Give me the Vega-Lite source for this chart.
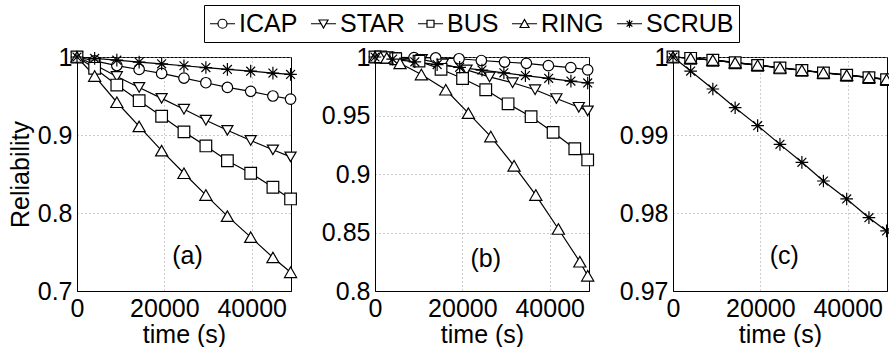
{
  "$schema": "https://vega.github.io/schema/vega-lite/v6.json",
  "padding": {"left": 7, "top": 4, "right": 0, "bottom": 0},
  "bounds": "flush",
  "align": "none",
  "spacing": 84,
  "config": {
    "font": "Liberation Sans",
    "view": {"stroke": "black", "strokeWidth": 1},
    "axis": {
      "labelFont": "Liberation Sans", "labelFontSize": 25, "labelColor": "black",
      "titleFont": "Liberation Sans", "titleFontSize": 25, "titleFontWeight": "normal", "titleColor": "black",
      "domainColor": "black", "ticks": false, "grid": true, "gridColor": "#999999", "gridDash": [1, 3], "gridWidth": 1,
      "labelPadding": 5, "labelFlush": false, "labelOverlap": false
    },
    "text": {"font": "Liberation Sans"}
  },
  "resolve": {"scale": {"shape": "independent", "size": "independent", "x": "independent", "y": "independent"}},
  "datasets": {
    "lab": [
      {"panel": "a", "t": 25300, "r": 0.745, "label": "(a)"},
      {"panel": "b", "t": 25360, "r": 0.8274, "label": "(b)"},
      {"panel": "c", "t": 25470, "r": 0.97449, "label": "(c)"}
    ],
    "d": [
      {"panel":"a","series":"ICAP","t":0,"r":1},{"panel":"a","series":"ICAP","t":4040,"r":0.995},{"panel":"a","series":"ICAP","t":9120,"r":0.989},{"panel":"a","series":"ICAP","t":14230,"r":0.984},{"panel":"a","series":"ICAP","t":19380,"r":0.979},{"panel":"a","series":"ICAP","t":24490,"r":0.973},{"panel":"a","series":"ICAP","t":29510,"r":0.967},{"panel":"a","series":"ICAP","t":34440,"r":0.961},{"panel":"a","series":"ICAP","t":39770,"r":0.956},{"panel":"a","series":"ICAP","t":44860,"r":0.95},{"panel":"a","series":"ICAP","t":48900,"r":0.946},
      {"panel":"a","series":"STAR","t":0,"r":1},{"panel":"a","series":"STAR","t":4040,"r":0.99},{"panel":"a","series":"STAR","t":9120,"r":0.975},{"panel":"a","series":"STAR","t":14230,"r":0.961},{"panel":"a","series":"STAR","t":19380,"r":0.947},{"panel":"a","series":"STAR","t":24490,"r":0.933},{"panel":"a","series":"STAR","t":29510,"r":0.919},{"panel":"a","series":"STAR","t":34440,"r":0.906},{"panel":"a","series":"STAR","t":39770,"r":0.893},{"panel":"a","series":"STAR","t":44860,"r":0.881},{"panel":"a","series":"STAR","t":48900,"r":0.872},
      {"panel":"a","series":"BUS","t":0,"r":1},{"panel":"a","series":"BUS","t":4040,"r":0.9855},{"panel":"a","series":"BUS","t":9120,"r":0.964},{"panel":"a","series":"BUS","t":14230,"r":0.944},{"panel":"a","series":"BUS","t":19380,"r":0.924},{"panel":"a","series":"BUS","t":24490,"r":0.904},{"panel":"a","series":"BUS","t":29510,"r":0.886},{"panel":"a","series":"BUS","t":34440,"r":0.867},{"panel":"a","series":"BUS","t":39770,"r":0.851},{"panel":"a","series":"BUS","t":44860,"r":0.833},{"panel":"a","series":"BUS","t":48900,"r":0.818},
      {"panel":"a","series":"RING","t":0,"r":1},{"panel":"a","series":"RING","t":4040,"r":0.9756},{"panel":"a","series":"RING","t":9120,"r":0.942},{"panel":"a","series":"RING","t":14230,"r":0.911},{"panel":"a","series":"RING","t":19380,"r":0.88},{"panel":"a","series":"RING","t":24490,"r":0.851},{"panel":"a","series":"RING","t":29510,"r":0.823},{"panel":"a","series":"RING","t":34440,"r":0.796},{"panel":"a","series":"RING","t":39770,"r":0.769},{"panel":"a","series":"RING","t":44860,"r":0.743},{"panel":"a","series":"RING","t":48900,"r":0.724},
      {"panel":"a","series":"SCRUB","t":0,"r":1},{"panel":"a","series":"SCRUB","t":4040,"r":0.9982},{"panel":"a","series":"SCRUB","t":9120,"r":0.9959},{"panel":"a","series":"SCRUB","t":14230,"r":0.9935},{"panel":"a","series":"SCRUB","t":19380,"r":0.9912},{"panel":"a","series":"SCRUB","t":24490,"r":0.9888},{"panel":"a","series":"SCRUB","t":29510,"r":0.9865},{"panel":"a","series":"SCRUB","t":34440,"r":0.9841},{"panel":"a","series":"SCRUB","t":39770,"r":0.9818},{"panel":"a","series":"SCRUB","t":44860,"r":0.9794},{"panel":"a","series":"SCRUB","t":48900,"r":0.9777},

      {"panel":"b","series":"ICAP","t":0,"r":1},{"panel":"b","series":"ICAP","t":1300,"r":1},{"panel":"b","series":"ICAP","t":2700,"r":1},{"panel":"b","series":"ICAP","t":4200,"r":0.9998},{"panel":"b","series":"ICAP","t":8935,"r":0.9995},{"panel":"b","series":"ICAP","t":13900,"r":0.9992},{"panel":"b","series":"ICAP","t":19240,"r":0.9985},{"panel":"b","series":"ICAP","t":24350,"r":0.997},{"panel":"b","series":"ICAP","t":29670,"r":0.9957},{"panel":"b","series":"ICAP","t":34660,"r":0.9946},{"panel":"b","series":"ICAP","t":39700,"r":0.9926},{"panel":"b","series":"ICAP","t":44830,"r":0.991},{"panel":"b","series":"ICAP","t":48700,"r":0.989},
      {"panel":"b","series":"STAR","t":0,"r":1},{"panel":"b","series":"STAR","t":1300,"r":1},{"panel":"b","series":"STAR","t":2700,"r":0.9998},{"panel":"b","series":"STAR","t":4500,"r":0.9995},{"panel":"b","series":"STAR","t":10700,"r":0.998},{"panel":"b","series":"STAR","t":15500,"r":0.994},{"panel":"b","series":"STAR","t":20960,"r":0.989},{"panel":"b","series":"STAR","t":26230,"r":0.983},{"panel":"b","series":"STAR","t":31500,"r":0.978},{"panel":"b","series":"STAR","t":36650,"r":0.972},{"panel":"b","series":"STAR","t":41540,"r":0.9645},{"panel":"b","series":"STAR","t":46670,"r":0.957},{"panel":"b","series":"STAR","t":48700,"r":0.954},
      {"panel":"b","series":"BUS","t":0,"r":1},{"panel":"b","series":"BUS","t":1300,"r":1},{"panel":"b","series":"BUS","t":2700,"r":0.9995},{"panel":"b","series":"BUS","t":4740,"r":0.9985},{"panel":"b","series":"BUS","t":10080,"r":0.9965},{"panel":"b","series":"BUS","t":15120,"r":0.9895},{"panel":"b","series":"BUS","t":20050,"r":0.9816},{"panel":"b","series":"BUS","t":25360,"r":0.972},{"panel":"b","series":"BUS","t":30470,"r":0.96},{"panel":"b","series":"BUS","t":35740,"r":0.949},{"panel":"b","series":"BUS","t":40780,"r":0.9356},{"panel":"b","series":"BUS","t":45750,"r":0.9216},{"panel":"b","series":"BUS","t":48700,"r":0.912},
      {"panel":"b","series":"RING","t":0,"r":1},{"panel":"b","series":"RING","t":1300,"r":0.9998},{"panel":"b","series":"RING","t":2700,"r":0.9992},{"panel":"b","series":"RING","t":5730,"r":0.9946},{"panel":"b","series":"RING","t":10610,"r":0.985},{"panel":"b","series":"RING","t":16200,"r":0.972},{"panel":"b","series":"RING","t":21380,"r":0.952},{"panel":"b","series":"RING","t":26510,"r":0.932},{"panel":"b","series":"RING","t":31840,"r":0.907},{"panel":"b","series":"RING","t":36820,"r":0.882},{"panel":"b","series":"RING","t":41990,"r":0.853},{"panel":"b","series":"RING","t":46900,"r":0.825},{"panel":"b","series":"RING","t":48700,"r":0.813},
      {"panel":"b","series":"SCRUB","t":0,"r":1},{"panel":"b","series":"SCRUB","t":4040,"r":0.9982},{"panel":"b","series":"SCRUB","t":9120,"r":0.9959},{"panel":"b","series":"SCRUB","t":14230,"r":0.9935},{"panel":"b","series":"SCRUB","t":19380,"r":0.9912},{"panel":"b","series":"SCRUB","t":24490,"r":0.9888},{"panel":"b","series":"SCRUB","t":29510,"r":0.9865},{"panel":"b","series":"SCRUB","t":34440,"r":0.9841},{"panel":"b","series":"SCRUB","t":39770,"r":0.9818},{"panel":"b","series":"SCRUB","t":44860,"r":0.9794},{"panel":"b","series":"SCRUB","t":48700,"r":0.9778},

      {"panel":"c","series":"ICAP","t":0,"r":1},{"panel":"c","series":"ICAP","t":4040,"r":0.99985},{"panel":"c","series":"ICAP","t":9120,"r":0.9996},{"panel":"c","series":"ICAP","t":14230,"r":0.99928},{"panel":"c","series":"ICAP","t":19380,"r":0.99895},{"panel":"c","series":"ICAP","t":24490,"r":0.99862},{"panel":"c","series":"ICAP","t":29510,"r":0.9983},{"panel":"c","series":"ICAP","t":34440,"r":0.99798},{"panel":"c","series":"ICAP","t":39770,"r":0.99768},{"panel":"c","series":"ICAP","t":44860,"r":0.99738},{"panel":"c","series":"ICAP","t":48900,"r":0.99712},
      {"panel":"c","series":"STAR","t":0,"r":1},{"panel":"c","series":"STAR","t":4040,"r":0.99987},{"panel":"c","series":"STAR","t":9120,"r":0.99962},{"panel":"c","series":"STAR","t":14230,"r":0.9993},{"panel":"c","series":"STAR","t":19380,"r":0.99897},{"panel":"c","series":"STAR","t":24490,"r":0.99864},{"panel":"c","series":"STAR","t":29510,"r":0.99832},{"panel":"c","series":"STAR","t":34440,"r":0.998},{"panel":"c","series":"STAR","t":39770,"r":0.9977},{"panel":"c","series":"STAR","t":44860,"r":0.9974},{"panel":"c","series":"STAR","t":48900,"r":0.99714},
      {"panel":"c","series":"BUS","t":0,"r":1},{"panel":"c","series":"BUS","t":4040,"r":0.99983},{"panel":"c","series":"BUS","t":9120,"r":0.99958},{"panel":"c","series":"BUS","t":14230,"r":0.99926},{"panel":"c","series":"BUS","t":19380,"r":0.99893},{"panel":"c","series":"BUS","t":24490,"r":0.9986},{"panel":"c","series":"BUS","t":29510,"r":0.99828},{"panel":"c","series":"BUS","t":34440,"r":0.99796},{"panel":"c","series":"BUS","t":39770,"r":0.99766},{"panel":"c","series":"BUS","t":44860,"r":0.99736},{"panel":"c","series":"BUS","t":48900,"r":0.9971},
      {"panel":"c","series":"RING","t":0,"r":1},{"panel":"c","series":"RING","t":4040,"r":0.99985},{"panel":"c","series":"RING","t":9120,"r":0.9996},{"panel":"c","series":"RING","t":14230,"r":0.99928},{"panel":"c","series":"RING","t":19380,"r":0.99895},{"panel":"c","series":"RING","t":24490,"r":0.99862},{"panel":"c","series":"RING","t":29510,"r":0.9983},{"panel":"c","series":"RING","t":34440,"r":0.99798},{"panel":"c","series":"RING","t":39770,"r":0.99768},{"panel":"c","series":"RING","t":44860,"r":0.99738},{"panel":"c","series":"RING","t":48900,"r":0.99712},
      {"panel":"c","series":"SCRUB","t":0,"r":1},{"panel":"c","series":"SCRUB","t":4040,"r":0.9982},{"panel":"c","series":"SCRUB","t":9120,"r":0.9959},{"panel":"c","series":"SCRUB","t":14230,"r":0.9935},{"panel":"c","series":"SCRUB","t":19380,"r":0.9912},{"panel":"c","series":"SCRUB","t":24490,"r":0.9888},{"panel":"c","series":"SCRUB","t":29510,"r":0.9865},{"panel":"c","series":"SCRUB","t":34440,"r":0.9841},{"panel":"c","series":"SCRUB","t":39770,"r":0.9818},{"panel":"c","series":"SCRUB","t":44860,"r":0.9794},{"panel":"c","series":"SCRUB","t":48900,"r":0.9777}
    ]
  },
  "hconcat": [
    {
      "width": 214, "height": 234,
      "resolve": {"scale": {"shape": "independent"}},
      "layer": [
        {"data": {"name": "d"}, "transform": [{"filter": "datum.panel == 'a'"}],
         "mark": {"type": "line", "color": "black", "strokeWidth": 1.2},
         "encoding": {
           "x": {"field": "t", "type": "quantitative", "scale": {"domain": [0, 49000], "nice": false}, "axis": {"values": [0, 20000, 40000], "format": "d", "title": "time (s)", "titlePadding": 1}},
           "y": {"field": "r", "type": "quantitative", "scale": {"domain": [0.7, 1], "nice": false, "zero": false}, "axis": {"values": [0.7, 0.8, 0.9, 1], "format": ".2~f", "title": "Reliability", "titlePadding": 4}},
           "detail": {"field": "series"}}},
        {"data": {"name": "d"}, "transform": [{"filter": "datum.panel == 'a'"}],
         "mark": {"type": "point", "filled": true, "fill": "white", "stroke": "black", "strokeWidth": 1.2, "opacity": 1},
         "encoding": {
           "x": {"field": "t", "type": "quantitative"},
           "y": {"field": "r", "type": "quantitative"},
           "shape": {"field": "series", "type": "nominal", "legend": null, "scale": {"domain": ["ICAP", "STAR", "BUS", "RING", "SCRUB"], "range": ["circle", "triangle-down", "square", "triangle-up", "M-1,0H1M0,-1V1M-0.7,-0.7L0.7,0.7M-0.7,0.7L0.7,-0.7"]}},
           "size": {"field": "series", "type": "nominal", "legend": null, "scale": {"domain": ["ICAP", "STAR", "BUS", "RING", "SCRUB"], "range": [110, 160, 72, 160, 100]}}}},
        {"data": {"name": "lab"}, "transform": [{"filter": "datum.panel == 'a'"}],
         "mark": {"type": "text", "fontSize": 25, "color": "black", "align": "center", "baseline": "middle"},
         "encoding": {"x": {"field": "t", "type": "quantitative"}, "y": {"field": "r", "type": "quantitative"}, "text": {"field": "label"}}},
        {"data": {"name": "d"}, "transform": [{"filter": "datum.t < 0"}],
         "mark": {"type": "point", "filled": false, "stroke": "black", "color": "black", "strokeWidth": 1.2, "opacity": 1},
         "encoding": {
           "x": {"field": "t", "type": "quantitative"},
           "y": {"field": "r", "type": "quantitative"},
           "shape": {"field": "series", "type": "nominal",
             "scale": {"domain": ["ICAP", "STAR", "BUS", "RING", "SCRUB"], "range": [
               "M-1,0H-0.36M0.36,0H1M-0.36,0A0.36,0.36 0 1,1 0.36,0A0.36,0.36 0 1,1 -0.36,0Z",
               "M-1,0H-0.19M0.19,0H1M-0.36,-0.3H0.36L0,0.34Z",
               "M-1,0H-0.28M0.28,0H1M-0.28,-0.28H0.28V0.28H-0.28Z",
               "M-1,0H-0.19M0.19,0H1M0,-0.34L0.36,0.3H-0.36Z",
               "M-1,0H1M0,-0.32V0.32M-0.23,-0.23L0.23,0.23M-0.23,0.23L0.23,-0.23"]},
             "legend": {"title": null, "orient": "none", "legendX": 127, "legendY": -52, "direction": "horizontal",
               "strokeColor": "black", "fillColor": "white", "padding": 5, "symbolSize": 625,
               "symbolStrokeColor": "black", "symbolStrokeWidth": 1.2, "symbolOpacity": 1,
               "labelFontSize": 25, "labelFont": "Liberation Sans", "labelColor": "black", "labelOffset": 3, "columnPadding": 10}}}}
      ]
    },
    {
      "width": 214, "height": 234,
      "layer": [
        {"data": {"name": "d"}, "transform": [{"filter": "datum.panel == 'b'"}],
         "mark": {"type": "line", "color": "black", "strokeWidth": 1.2},
         "encoding": {
           "x": {"field": "t", "type": "quantitative", "scale": {"domain": [0, 49000], "nice": false}, "axis": {"values": [0, 20000, 40000], "format": "d", "title": "time (s)", "titlePadding": 1}},
           "y": {"field": "r", "type": "quantitative", "scale": {"domain": [0.8, 1], "nice": false, "zero": false}, "axis": {"values": [0.8, 0.85, 0.9, 0.95, 1], "format": ".2~f", "title": null}},
           "detail": {"field": "series"}}},
        {"data": {"name": "d"}, "transform": [{"filter": "datum.panel == 'b'"}],
         "mark": {"type": "point", "filled": true, "fill": "white", "stroke": "black", "strokeWidth": 1.2, "opacity": 1},
         "encoding": {
           "x": {"field": "t", "type": "quantitative"},
           "y": {"field": "r", "type": "quantitative"},
           "shape": {"field": "series", "type": "nominal", "legend": null, "scale": {"domain": ["ICAP", "STAR", "BUS", "RING", "SCRUB"], "range": ["circle", "triangle-down", "square", "triangle-up", "M-1,0H1M0,-1V1M-0.7,-0.7L0.7,0.7M-0.7,0.7L0.7,-0.7"]}},
           "size": {"field": "series", "type": "nominal", "legend": null, "scale": {"domain": ["ICAP", "STAR", "BUS", "RING", "SCRUB"], "range": [110, 160, 72, 160, 100]}}}},
        {"data": {"name": "lab"}, "transform": [{"filter": "datum.panel == 'b'"}],
         "mark": {"type": "text", "fontSize": 25, "color": "black", "align": "center", "baseline": "middle"},
         "encoding": {"x": {"field": "t", "type": "quantitative"}, "y": {"field": "r", "type": "quantitative"}, "text": {"field": "label"}}}
      ]
    },
    {
      "width": 214, "height": 234,
      "layer": [
        {"data": {"name": "d"}, "transform": [{"filter": "datum.panel == 'c'"}],
         "mark": {"type": "line", "color": "black", "strokeWidth": 1.2},
         "encoding": {
           "x": {"field": "t", "type": "quantitative", "scale": {"domain": [0, 49000], "nice": false}, "axis": {"values": [0, 20000, 40000], "format": "d", "title": "time (s)", "titlePadding": 1}},
           "y": {"field": "r", "type": "quantitative", "scale": {"domain": [0.97, 1], "nice": false, "zero": false}, "axis": {"values": [0.97, 0.98, 0.99, 1], "format": ".2~f", "title": null}},
           "detail": {"field": "series"}}},
        {"data": {"name": "d"}, "transform": [{"filter": "datum.panel == 'c'"}],
         "mark": {"type": "point", "filled": true, "fill": "white", "stroke": "black", "strokeWidth": 1.2, "opacity": 1},
         "encoding": {
           "x": {"field": "t", "type": "quantitative"},
           "y": {"field": "r", "type": "quantitative"},
           "shape": {"field": "series", "type": "nominal", "legend": null, "scale": {"domain": ["ICAP", "STAR", "BUS", "RING", "SCRUB"], "range": ["circle", "triangle-down", "square", "triangle-up", "M-1,0H1M0,-1V1M-0.7,-0.7L0.7,0.7M-0.7,0.7L0.7,-0.7"]}},
           "size": {"field": "series", "type": "nominal", "legend": null, "scale": {"domain": ["ICAP", "STAR", "BUS", "RING", "SCRUB"], "range": [110, 160, 72, 160, 100]}}}},
        {"data": {"name": "lab"}, "transform": [{"filter": "datum.panel == 'c'"}],
         "mark": {"type": "text", "fontSize": 25, "color": "black", "align": "center", "baseline": "middle"},
         "encoding": {"x": {"field": "t", "type": "quantitative"}, "y": {"field": "r", "type": "quantitative"}, "text": {"field": "label"}}}
      ]
    }
  ]
}
